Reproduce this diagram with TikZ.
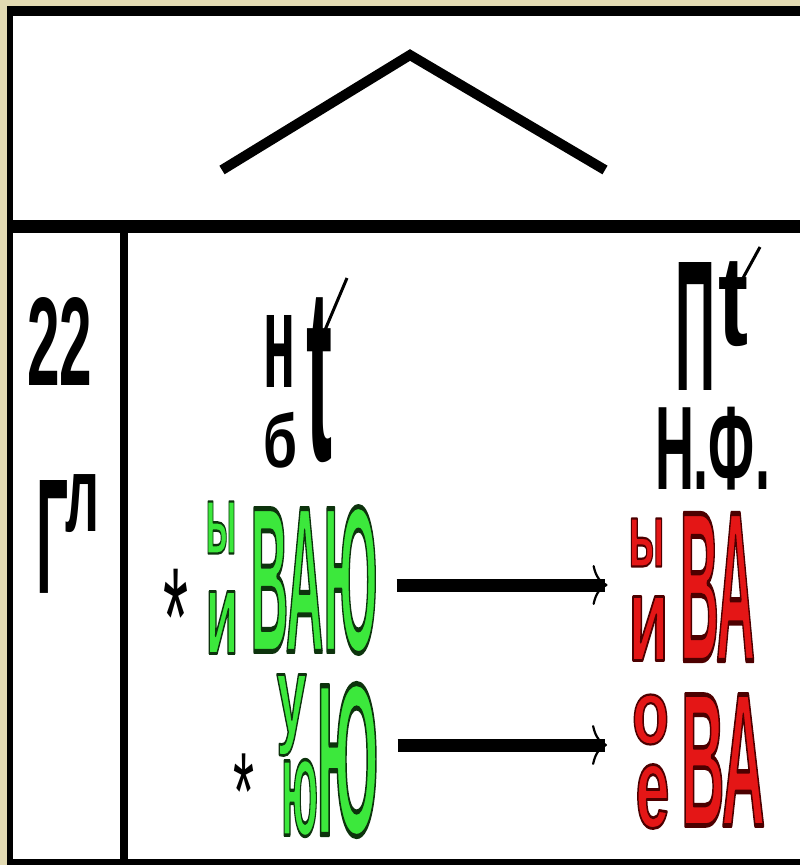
\documentclass[tikz,border=0pt]{standalone}
\usepackage{fontspec}
\usepackage{graphicx}
\setmainfont{Liberation Sans}
\usetikzlibrary{arrows.meta,calc}
\definecolor{beige}{RGB}{226,218,178}
\definecolor{gfill}{RGB}{60,232,60}
\definecolor{rfill}{RGB}{228,22,22}
\newcommand{\fitb}[3]{\resizebox*{#1pt}{#2pt}{\fontsize{100}{100}\selectfont\bfseries #3}}
\newcommand{\astr}[2]{\resizebox*{#1pt}{#2pt}{\fontsize{100}{100}\selectfont\raisebox{-0.42em}[0.30em][0pt]{*}}}
% outlined text: w, h, fill colour, stroke rgb, text
\newcommand{\ofit}[5]{\resizebox*{#1pt}{#2pt}{\fontsize{100}{100}\selectfont\bfseries\color{#3}\special{pdf:literal direct #4 RG 2 Tr 2.4 w 1 j}#5\special{pdf:literal direct 0 Tr}}}
\newcommand{\gtx}[3]{\ofit{#1}{#2}{gfill}{0.05 0.2 0.05}{#3}}
\newcommand{\rtx}[3]{\ofit{#1}{#2}{rfill}{0.3 0 0}{#3}}
\tikzset{
  lbl/.style={inner sep=0pt, outer sep=0pt, anchor=center},
  arr/.style={line width=13pt, -{Computer Modern Rightarrow[line width=2.2pt, length=15pt, width=40pt]}},
  accent/.style={line width=3pt}
}
\begin{document}
\begin{tikzpicture}[x=1pt,y=-1pt]
\useasboundingbox (0,0) rectangle (800,865);
\fill[beige] (0,0) rectangle (800,865);
\fill[black] (7,6) rectangle (800,865);
\fill[white] (13,16) rectangle (800,859);
\fill[black] (13,220) rectangle (800,233);
\fill[black] (120,233) rectangle (128,859);
\draw[line width=10pt, miter limit=10] (222,170) -- (410,55) -- (605,170);
% left column
\node[lbl] (n22) at (60,341) {\fitb{65}{88}{22}};
\node[lbl] (nG) at (52.5,536.5) {\fitb{32}{113}{Г}};
\node[lbl] (nl) at (82.5,504) {\fitb{34}{58}{л}};
% heading middle
\node[lbl] (nn) at (279,351) {\fitb{32}{72}{н}};
\node[lbl] (nb) at (280,440) {\fitb{34}{56}{б}};
\node[lbl] (nt1) at (319,380.5) {\fitb{26}{165}{t}};
\draw[accent] (325,330) -- (347,278);
% heading right
\node[lbl] (nP) at (695,326) {\fitb{40}{128}{П}};
\node[lbl] (nt2) at (733.5,304.5) {\fitb{30}{85}{t}};
\draw[accent] (743,278) -- (760,247);
\node[lbl] (nNF) at (712.5,448.5) {\fitb{115}{83}{Н.Ф.}};
% green row 1
\node[lbl] (s1) at (176,586) {\astr{25}{42}};
\node[lbl] (gy1) at (221,527.5) {\gtx{31}{52}{ы}};
\node[lbl] (gi1) at (222,622.5) {\gtx{33}{62}{и}};
\node[lbl] (g1) at (314,580) {\gtx{127}{147}{ВАЮ}};
% green row 2
\node[lbl] (s2) at (244,766.5) {\astr{21}{33}};
\node[lbl] (gu) at (291.5,715) {\gtx{30}{81}{у}};
\node[lbl] (gju) at (299.5,798) {\gtx{37}{77}{ю}};
\node[lbl] (g2) at (347.5,760) {\gtx{62}{153}{Ю}};
% red row 1
\node[lbl] (ry1) at (646.5,542.5) {\rtx{36}{48}{ы}};
\node[lbl] (ri1) at (648.5,628.5) {\rtx{40}{64}{и}};
\node[lbl] (r1) at (717.5,587) {\rtx{75}{147}{ВА}};
% red row 2
\node[lbl] (ro) at (650.5,719.5) {\rtx{37}{50}{о}};
\node[lbl] (re) at (652.5,796.5) {\rtx{34}{64}{е}};
\node[lbl] (r2) at (723,760) {\rtx{84}{131}{ВА}};
% arrows
\draw[arr, shorten <=19pt, shorten >=21pt] ([yshift=-5pt]g1.east) -- ([yshift=-5pt]g1.east -| ri1.west);
\draw[arr, shorten <=19pt, shorten >=25pt] ([yshift=15pt]g2.east) -- ([yshift=15pt]g2.east -| ro.west);
\end{tikzpicture}
\end{document}
